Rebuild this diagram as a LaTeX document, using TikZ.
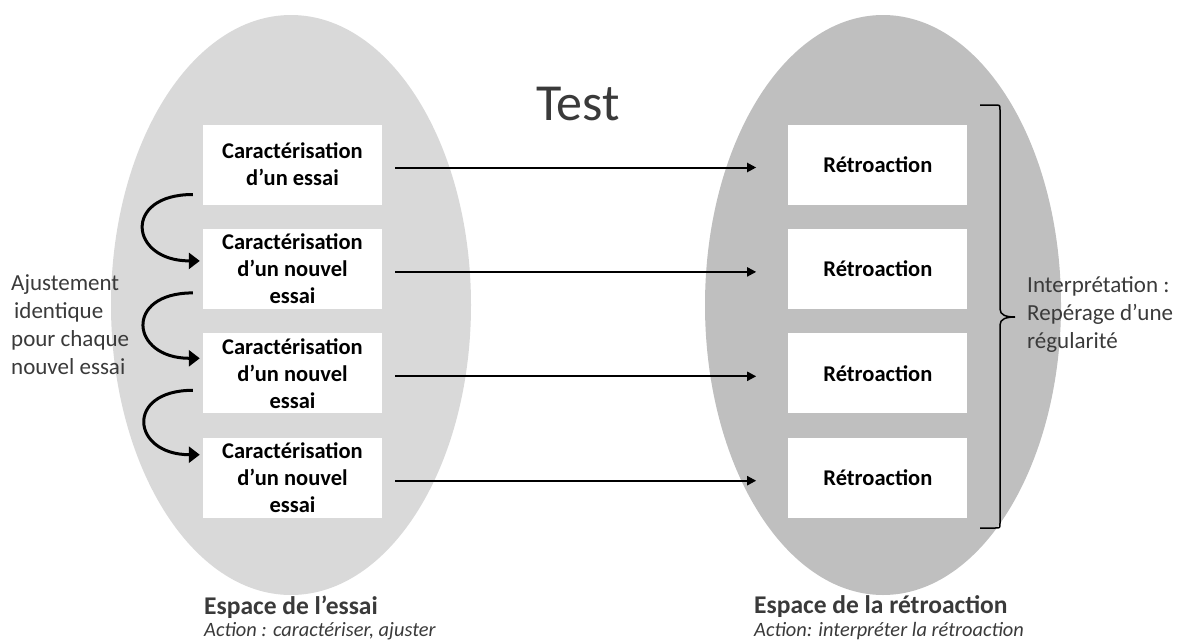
\documentclass[tikz,border=0pt]{standalone}
\usepackage{fontspec}
\setmainfont{Carlito}
\usetikzlibrary{positioning,arrows.meta}
\definecolor{essaigray}{HTML}{D9D9D9}
\definecolor{retrogray}{HTML}{BFBFBF}
\definecolor{ink}{HTML}{3A3A3A}

\begin{document}
\begin{tikzpicture}[
  x=1pt, y=-1pt,
  box/.style={fill=white, minimum width=179pt, minimum height=80pt, inner sep=1pt,
              font=\fontsize{22.5}{27}\selectfont\bfseries, align=center, text=black},
  note/.style={font=\fontsize{23}{28}\selectfont, text=ink, align=left, inner sep=0pt},
  arrow/.style={-{Triangle[length=9pt,width=9pt]}, line width=2pt,
                shorten <=13pt, shorten >=32pt},
  turn/.style={-{Triangle[length=11pt,width=16pt]}, line width=3pt},
  bracepath/.style={line width=1.5pt},
  node distance=24pt and 406pt
]
\useasboundingbox (0,0) rectangle (1184,643);

\fill[essaigray] (291,305) ellipse [x radius=180pt, y radius=290pt];
\fill[retrogray] (883,305) ellipse [x radius=178pt, y radius=290pt];

\node[box] (c1) at (292.5,164.5) {Caractérisation\\d’un essai};
\node[box, below=of c1] (c2) {Caractérisation\\d’un nouvel\\essai};
\node[box, below=of c2] (c3) {Caractérisation\\d’un nouvel\\essai};
\node[box, below=of c3] (c4) {Caractérisation\\d’un nouvel\\essai};

\node[box, right=of c1] (r1) {Rétroaction};
\node[box, right=of c2] (r2) {Rétroaction};
\node[box, right=of c3] (r3) {Rétroaction};
\node[box, right=of c4] (r4) {Rétroaction};

\foreach \i in {1,...,4}
  \draw[arrow] ([yshift=-3pt]c\i.east) -- ([yshift=-3pt]r\i.west);

\draw[turn] ([xshift=-10pt,yshift=-30pt]c1.west) to[out=180,in=180,looseness=2.7] ([xshift=-3pt,yshift=8pt]c2.west);
\draw[turn] ([xshift=-10pt,yshift=-24pt]c2.west) to[out=180,in=180,looseness=2.7] ([xshift=-3pt,yshift=15pt]c3.west);
\draw[turn] ([xshift=-10pt,yshift=-17pt]c3.west) to[out=180,in=180,looseness=2.7] ([xshift=-3pt,yshift=23pt]c4.west);

% Labels on the diagram
\node[font=\fontsize{52}{56}\selectfont, text=ink] (test) at (578,104) {Test};
\node[note, anchor=west] (ajust) at (11,325) {Ajustement\\\hspace{3pt}identique\\pour chaque\\nouvel essai};

\coordinate (btop) at (980,105);
\coordinate (btip) at (1015,317);
\coordinate (bbot) at (980,528);
\draw[bracepath] (btop) -- (995,105) .. controls (1000,105) .. (1000,110) -- (1000,309)
  .. controls (1000,315) and (1006,317) .. (btip)
  .. controls (1006,317) and (1000,319) .. (1000,325) -- (1000,523)
  .. controls (1000,528) .. (995,528) -- (bbot);
\node[note, anchor=west] (interp) at (1027,315) {Interprétation :\\Repérage d’une\\régularité};

\node[anchor=west, inner sep=0pt, font=\fontsize{25.5}{28}\selectfont\bfseries, text=ink] (essai) at (204,607) {Espace de l’essai};
\node[anchor=west, inner sep=0pt, font=\fontsize{20.4}{24}\selectfont\itshape, text=ink] (actessai) at (204,631) {Action : caractériser, ajuster};
\node[anchor=west, inner sep=0pt, font=\fontsize{25.5}{28}\selectfont\bfseries, text=ink] (retro) at (754,607) {Espace de la rétroaction};
\node[anchor=west, inner sep=0pt, font=\fontsize{20.4}{24}\selectfont\itshape, text=ink] (actretro) at (754,631) {Action: interpréter la rétroaction};

\end{tikzpicture}
\end{document}
